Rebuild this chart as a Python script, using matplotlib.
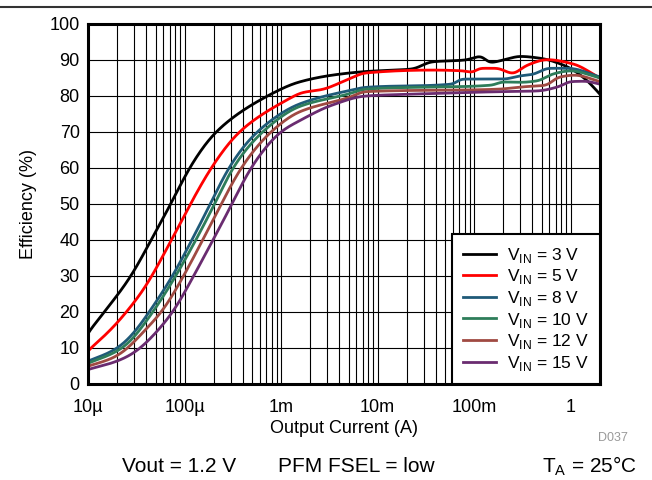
import numpy as np
import matplotlib.pyplot as plt
from matplotlib.ticker import FixedLocator, LogLocator, NullFormatter

plt.rcParams['font.family'] = ['Liberation Sans', 'DejaVu Sans']
plt.rcParams['mathtext.fontset'] = 'custom'
plt.rcParams['mathtext.rm'] = 'Liberation Sans'

# ---- data (output current in A, efficiency in %) ----
i_3v = [1e-5, 1.47e-5, 2.2e-5, 2.8e-5, 4.5e-5, 7.2e-5, 1.12e-4, 2.1e-4, 7.2e-4, 1.5e-3, 3.4e-3,
        7.5e-3, 2.26e-2, 3.67e-2, 8.1e-2, 0.116, 0.147, 0.2, 0.30, 0.48, 0.94, 1.47, 2.0]
e_3v = [14, 20, 26, 30, 40, 50, 60, 70, 80, 83.8, 85.8,
        86.8, 87.5, 89.5, 90, 91, 89.3, 90, 91, 90.5, 88, 84.3, 80.5]

i_5v = [1e-5, 2e-5, 2.5e-5, 3.77e-5, 4.6e-5, 7.3e-5, 1.15e-4, 1.88e-4, 3.66e-4, 1.03e-3, 1.7e-3,
        2.65e-3, 4.66e-3, 7.5e-3, 3.67e-2, 7.5e-2, 9.5e-2, 0.116, 0.17, 0.25, 0.35, 0.57,
        1.06, 2.0]
e_5v = [9.1, 16.9, 20, 26.2, 30, 40, 50, 60, 70, 78.2, 81,
        81.8, 84.3, 86.4, 87.2, 87, 86.6, 87.7, 87.7, 86.3, 88.5, 90.1,
        88.9, 85.0]

i_8v = [1e-5, 2.05e-5, 3e-5, 4.3e-5, 7.52e-5, 1.19e-4, 1.85e-4, 2.85e-4, 5.6e-4, 1.52e-3,
        5.05e-3, 7.5e-3, 5.9e-2, 7.5e-2, 0.2, 0.3, 0.4, 0.6, 0.95, 2.0]
e_8v = [6.3, 10, 14.2, 20, 30, 40, 50, 60, 70, 77.7,
        81.5, 82.4, 83.3, 84.7, 84.7, 85.6, 86, 87.7, 87.7, 85.3]

i_10v = [1e-5, 2.3e-5, 4.7e-5, 8.1e-5, 1.31e-4, 2.05e-4, 3.14e-4, 6.38e-4, 1.52e-3, 5.05e-3,
         7.5e-3, 0.15, 0.2, 0.3, 0.45, 0.65, 1.0, 2.0]
e_10v = [5.7, 10, 20, 30, 40, 50, 60, 70, 77, 80.6,
         81.9, 83, 83.9, 83.8, 84.2, 86.1, 87, 85.0]

i_12v = [1e-5, 2e-5, 2.6e-5, 3.9e-5, 5.8e-5, 9.77e-5, 1.54e-4, 2.4e-4, 3.83e-4, 7.8e-4,
         1.52e-3, 5.05e-3, 7.5e-3, 0.18, 0.3, 0.55, 0.75, 1.1, 2.0]
e_12v = [4.9, 7.7, 10, 15, 20, 30, 40, 50, 60, 70,
         75.5, 79.6, 81.2, 81.9, 82.5, 83, 85.2, 85.8, 84.0]

i_15v = [1e-5, 2e-5, 3e-5, 4e-5, 6.2e-5, 7.6e-5, 1.24e-4, 1.97e-4, 3.1e-4, 4.83e-4, 9.87e-4,
         1.52e-3, 3.4e-3, 7.5e-3, 3e-2, 0.18, 0.45, 0.75, 1.0, 1.4, 2.0]
e_15v = [4.0, 6.3, 8.6, 11.4, 17, 20, 30, 40, 50, 60, 70,
         73, 77.5, 80, 80.6, 81.2, 81.4, 82.6, 84, 84.1, 83.3]

series = [
    (i_3v, e_3v, '#000000', 'V$_{\\mathrm{IN}}$ = 3 V'),
    (i_5v, e_5v, '#FF0000', 'V$_{\\mathrm{IN}}$ = 5 V'),
    (i_8v, e_8v, '#1F5A78', 'V$_{\\mathrm{IN}}$ = 8 V'),
    (i_10v, e_10v, '#2E7D5A', 'V$_{\\mathrm{IN}}$ = 10 V'),
    (i_12v, e_12v, '#A04A42', 'V$_{\\mathrm{IN}}$ = 12 V'),
    (i_15v, e_15v, '#6A2C70', 'V$_{\\mathrm{IN}}$ = 15 V'),
]

x_ticks = [1e-5, 1e-4, 1e-3, 1e-2, 1e-1, 1]
x_labels = ['10\u00b5', '100\u00b5', '1m', '10m', '100m', '1']
y_ticks = list(range(0, 101, 10))


def pchip(x, y, xn):
    """Monotone cubic (Fritsch-Carlson) through the read points."""
    x = np.asarray(x, float)
    y = np.asarray(y, float)
    h = np.diff(x)
    d = np.diff(y) / h
    m = np.zeros_like(y)
    m[0], m[-1] = d[0], d[-1]
    for k in range(1, len(x) - 1):
        if d[k - 1] * d[k] > 0:
            w1 = 2 * h[k] + h[k - 1]
            w2 = h[k] + 2 * h[k - 1]
            m[k] = (w1 + w2) / (w1 / d[k - 1] + w2 / d[k])
    idx = np.clip(np.searchsorted(x, xn) - 1, 0, len(x) - 2)
    t = (xn - x[idx]) / h[idx]
    h00 = 2 * t**3 - 3 * t**2 + 1
    h10 = t**3 - 2 * t**2 + t
    h01 = -2 * t**3 + 3 * t**2
    h11 = t**3 - t**2
    return (h00 * y[idx] + h10 * h[idx] * m[idx]
            + h01 * y[idx + 1] + h11 * h[idx] * m[idx + 1])


def smooth(y, sigma):
    """Gaussian smoothing with edge padding, to take the corners off."""
    half = int(4 * sigma)
    k = np.exp(-0.5 * (np.arange(-half, half + 1) / sigma) ** 2)
    k /= k.sum()
    padded = np.concatenate([np.full(half, y[0]), y, np.full(half, y[-1])])
    out = np.convolve(padded, k, mode='valid')
    # keep the end values where they were read
    n = len(y)
    w = np.clip(np.minimum(np.arange(n), np.arange(n)[::-1]) / (2 * sigma), 0, 1)
    return w * out + (1 - w) * y


fig = plt.figure(figsize=(6.52, 4.8), dpi=100)
ax = fig.add_axes([0.135, 0.2, 0.785, 0.75])

for xs, ys, color, label in series:
    lx = np.log10(xs)
    fine = np.linspace(lx[0], lx[-1], 1000)
    raw = pchip(lx, ys, fine)
    # stronger smoothing on the light-load ramp, lighter on the plateau
    w = np.clip((fine + 3.2) / 0.4, 0, 1)
    yy = (1 - w) * smooth(raw, 14) + w * smooth(raw, 5)
    ax.plot(10 ** fine, yy, color=color, lw=2, label=label)

ax.set_xscale('log')
ax.set_xlim(1e-5, 2)
ax.set_ylim(0, 100)
ax.xaxis.set_major_locator(FixedLocator(x_ticks))
ax.set_xticklabels(x_labels)
ax.xaxis.set_minor_locator(LogLocator(base=10, subs=np.arange(2, 10)))
ax.xaxis.set_minor_formatter(NullFormatter())
ax.set_yticks(y_ticks)
ax.grid(True, which='both', axis='x', color='black', lw=0.8)
ax.grid(True, which='major', axis='y', color='black', lw=0.8)
ax.tick_params(which='both', length=0, labelsize=13)
ax.tick_params(axis='y', pad=6)
ax.tick_params(axis='x', pad=11)
for s in ax.spines.values():
    s.set_linewidth(2.2)

ax.set_xlabel('Output Current (A)', fontsize=13, labelpad=3)
ax.set_ylabel('Efficiency (%)', fontsize=13, labelpad=9)

leg = ax.legend(loc='lower right', fontsize=12.5, frameon=True, fancybox=False,
                framealpha=1, edgecolor='black', borderaxespad=0,
                handlelength=1.9, handletextpad=0.6, labelspacing=0.15,
                borderpad=0.65)
leg.get_frame().set_linewidth(1.5)

fig.add_artist(plt.Line2D([0, 1], [0.985, 0.985], color='#333333', lw=1.5))
fig.text(0.94, 0.082, 'D037', fontsize=9, color='#999999', ha='center')
fig.text(0.187, 0.029, 'Vout = 1.2 V', fontsize=15, va='center')
fig.text(0.426, 0.029, 'PFM FSEL = low', fontsize=15, va='center')
fig.text(0.977, 0.029, 'T$_{\\mathrm{A}}$ = 25\u00b0C', fontsize=15, va='center', ha='right')

fig.savefig('out.png', dpi=100)
